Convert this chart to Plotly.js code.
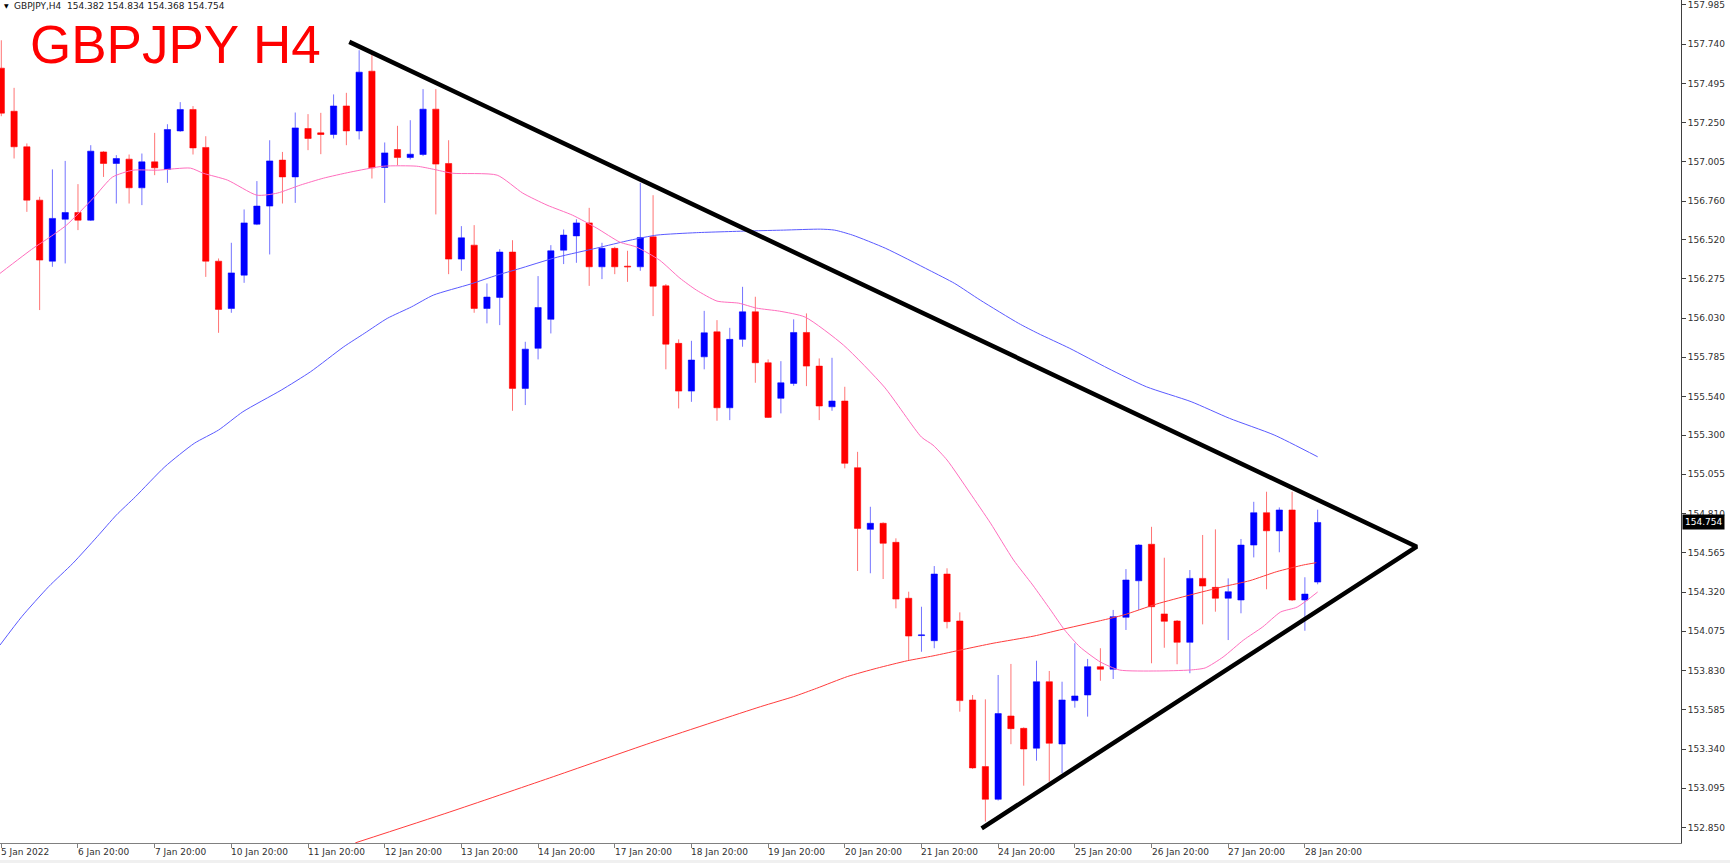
<!DOCTYPE html>
<html><head><meta charset="utf-8">
<script src="https://cdn.plot.ly/plotly-3.0.1.min.js"></script>
<style>html,body{margin:0;padding:0;background:#fff;overflow:hidden}#chart{width:1730px;height:863px}</style>
</head><body><div id="chart"></div>
<script>
const symbolName = 'GBPJPY,H4';
const bigTitle = 'GBPJPY H4';

const openP = [157.590,157.321,157.099,156.766,156.385,156.647,156.689,156.641,157.067,156.995,
157.022,156.843,157.005,156.958,157.198,157.332,157.095,156.385,156.090,156.298,
156.616,156.729,157.016,156.911,157.213,157.186,157.176,157.354,157.198,157.571,
156.970,157.082,157.032,157.051,157.334,156.995,156.398,156.485,156.090,156.159,
156.442,155.591,155.841,156.022,156.454,156.543,156.624,156.350,156.465,156.354,
156.350,156.537,156.231,155.872,155.574,155.788,155.944,155.470,155.897,156.069,
155.751,155.529,155.622,155.940,155.730,155.476,155.512,155.096,154.711,154.749,
154.630,154.281,154.048,154.016,154.432,154.139,153.646,153.230,153.026,153.546,
153.469,153.345,153.760,153.371,153.642,153.677,153.854,153.838,154.162,154.390,
154.618,154.183,154.139,154.006,154.405,154.349,154.281,154.270,154.613,154.815,
154.701,154.832,154.270,154.382];
const highP = [157.764,157.467,157.120,156.787,156.958,157.011,156.866,157.109,157.072,157.047,
157.051,157.057,157.186,157.240,157.378,157.353,157.165,156.402,156.500,156.708,
156.885,157.140,157.067,157.313,157.303,157.311,157.426,157.436,157.702,157.681,
157.126,157.230,157.265,157.459,157.459,157.140,156.604,156.610,156.246,156.460,
156.516,155.882,156.292,156.485,156.583,156.647,156.718,156.500,156.475,156.450,
156.874,156.797,156.242,155.897,155.888,156.075,156.017,155.969,156.225,156.163,
155.772,155.761,156.022,156.059,155.778,155.782,155.601,155.195,154.852,154.755,
154.655,154.322,154.228,154.482,154.468,154.193,153.677,153.650,153.802,153.871,
153.475,153.891,153.827,153.760,154.000,153.902,153.969,154.208,154.463,154.619,
154.727,154.534,154.145,154.457,154.676,154.711,154.405,154.651,154.883,154.946,
154.848,154.946,154.412,154.834];
const lowP = [157.290,157.026,156.693,156.080,156.350,156.371,156.579,156.636,156.911,156.745,
156.745,156.735,156.922,156.874,157.193,157.051,156.287,155.938,156.063,156.250,
156.610,156.427,156.745,156.749,157.078,157.053,157.151,157.109,157.145,156.901,
156.749,156.984,157.020,157.041,156.677,156.304,156.325,156.063,155.997,155.986,
155.451,155.487,155.772,155.934,156.367,156.375,156.231,156.273,156.304,156.256,
156.325,156.042,155.710,155.466,155.507,155.710,155.389,155.393,155.851,155.626,
155.406,155.435,155.607,155.605,155.393,155.451,155.092,154.451,154.437,154.401,
154.218,153.896,153.947,153.969,154.093,153.573,153.216,152.887,153.018,153.370,
153.111,153.267,153.136,153.189,153.598,153.542,153.766,153.777,154.083,154.208,
153.875,153.972,153.869,153.813,154.118,154.197,154.020,154.187,154.536,154.337,
154.568,154.264,154.078,154.368];
const closeP = [157.309,157.099,156.766,156.392,156.652,156.689,156.641,157.072,156.995,157.026,
156.843,157.005,156.968,157.207,157.332,157.092,156.385,156.084,156.312,156.624,
156.729,157.011,156.911,157.217,157.151,157.176,157.354,157.198,157.565,156.968,
157.061,157.032,157.053,157.334,156.991,156.398,156.531,156.090,156.161,156.442,
155.591,155.836,156.096,156.450,156.548,156.624,156.350,156.465,156.350,156.350,
156.533,156.229,155.867,155.574,155.768,155.938,155.470,155.897,156.069,155.751,
155.410,155.626,155.940,155.730,155.481,155.512,155.123,154.717,154.749,154.624,
154.276,154.045,154.052,154.432,154.135,153.642,153.222,153.026,153.561,153.467,
153.340,153.760,153.376,153.646,153.671,153.854,153.838,154.166,154.395,154.613,
154.228,154.137,154.006,154.405,154.357,154.281,154.322,154.613,154.815,154.702,
154.832,154.270,154.307,154.754];

// bar positions (H4 bars, weekends skipped) and the time-axis labels
const tickPos = [0,6,12,18,24,30,36,42,48,54,60,66,72,78,84,90,96,102];
const tickLabels = ['5 Jan 2022','6 Jan 20:00','7 Jan 20:00','10 Jan 20:00','11 Jan 20:00','12 Jan 20:00',
'13 Jan 20:00','14 Jan 20:00','17 Jan 20:00','18 Jan 20:00','19 Jan 20:00','20 Jan 20:00','21 Jan 20:00',
'24 Jan 20:00','25 Jan 20:00','26 Jan 20:00','27 Jan 20:00','28 Jan 20:00'];
const priceTicks = [157.985,157.740,157.495,157.250,157.005,156.760,156.520,156.275,156.030,155.785,155.540,
155.300,155.055,154.810,154.565,154.320,154.075,153.830,153.585,153.340,153.095,152.850];

// fast MA (pink)
const maFastX = [-0.1,2.5,3.8,5.1,7.2,8.7,10.3,12.2,14.8,15.8,17.7,20.0,21.6,23.4,25.2,27.3,29.9,32.5,33.8,35.3,38.8,40.8,42.7,44.7,46.6,48.4,49.7,51.5,53.1,54.4,56.0,57.7,59.1,60.9,62.9,65.9,69.1,72.0,72.9,74.0,75.8,77.4,79.2,80.7,82.1,83.2,84.4,86.0,87.5,90.4,93.0,94.2,95.6,97.2,98.7,100.1,101.4,103.0];
const maFastY = [156.309,156.466,156.535,156.610,156.779,156.910,156.953,156.953,156.966,156.934,156.891,156.797,156.810,156.860,156.903,156.941,156.978,156.978,156.959,156.934,156.922,156.810,156.735,156.672,156.591,156.504,156.473,156.392,156.279,156.204,156.136,156.123,156.092,156.073,156.036,155.861,155.599,155.287,155.237,155.144,154.938,154.750,154.520,154.364,154.208,154.083,153.977,153.883,153.833,153.827,153.833,153.846,153.914,154.020,154.102,154.195,154.226,154.320];
// medium MA (blue)
const maMidX = [-0.1,1.6,3.7,5.6,7.5,9.0,10.5,12.8,15.1,17.0,18.9,21.9,24.2,26.8,28.4,30.2,32.1,33.8,36.7,38.8,40.4,43.5,46.6,49.2,51.3,54.4,58.7,61.2,64.1,65.2,66.6,69.2,72.6,74.6,76.6,79.6,81.1,83.6,86.6,89.6,93.1,96.1,99.6,103.0];
const maMidY = [153.989,154.166,154.353,154.499,154.665,154.800,154.915,155.102,155.248,155.331,155.445,155.580,155.695,155.851,155.934,156.028,156.100,156.173,156.242,156.298,156.335,156.410,156.467,156.516,156.548,156.563,156.574,156.579,156.585,156.579,156.548,156.465,156.329,156.246,156.142,155.997,155.935,155.841,155.716,155.601,155.508,155.404,155.300,155.164];
// slow MA (red)
const maSlowX = [27.7,35.1,42.9,50.8,59.4,62.0,63.8,66.2,68.5,70.9,72.9,75.3,77.6,80.8,82.8,86.0,87.8,90.4,93.0,95.6,97.7,99.8,101.9,102.9];
const maSlowY = [152.754,152.947,153.159,153.378,153.604,153.667,153.719,153.792,153.844,153.891,153.921,153.962,154.000,154.045,154.083,154.141,154.176,154.245,154.301,154.353,154.391,154.447,154.489,154.503];

// hand-drawn triangle trendlines: upper start -> apex -> lower start
const trendX = [27.23,110.75,76.71];
const trendY = [157.754,154.603,152.845];

const barIndex = openP.map((_, i) => i);
const last = openP.length - 1;
const lastPrice = closeP[last];

const axisFont = {family:'DejaVu Sans', size:9, color:'#303030'};

const traces = [
  {type:'candlestick', x:barIndex, open:openP, high:highP, low:lowP, close:closeP,
   increasing:{line:{color:'rgba(0,0,255,0.55)', width:1}, fillcolor:'#0000ff'},
   decreasing:{line:{color:'rgba(255,0,0,0.55)', width:1}, fillcolor:'#ff0000'},
   whiskerwidth:0, hoverinfo:'skip'},
  {type:'scatter', mode:'lines', x:maSlowX, y:maSlowY, line:{color:'rgb(255,60,60)', width:1, shape:'spline', smoothing:0.6}, hoverinfo:'skip'},
  {type:'scatter', mode:'lines', x:maMidX, y:maMidY, line:{color:'rgb(90,90,255)', width:1, shape:'spline', smoothing:0.6}, hoverinfo:'skip'},
  {type:'scatter', mode:'lines', x:maFastX, y:maFastY, line:{color:'rgb(255,110,190)', width:1, shape:'spline', smoothing:0.6}, hoverinfo:'skip'},
  {type:'scatter', mode:'lines', x:trendX, y:trendY, line:{color:'#000000', width:4.5}, hoverinfo:'skip'}
];

const annotations = tickLabels.map((t, k) => ({
  x: tickPos[k], y: 0, xref:'x', yref:'paper', xanchor:'left', yanchor:'top',
  text: t, showarrow:false, font: axisFont, xshift:-2, yshift:-2
}));
annotations.push({
  xref:'paper', x:1, y:lastPrice, yref:'y', xanchor:'left', yanchor:'middle',
  text: lastPrice.toFixed(3), showarrow:false, bgcolor:'#000000', borderpad:2,
  font:{family:'DejaVu Sans', size:9, color:'#ffffff'}, xshift:1
});
annotations.push({
  xref:'paper', yref:'paper', x:28/1681, y:1-44/843, xanchor:'left', yanchor:'middle',
  text: bigTitle, showarrow:false, font:{family:'Liberation Sans, Arial', size:53, color:'#ff0000'}
});
annotations.push({
  xref:'paper', yref:'paper', x:2/1681, y:1-6/843, xanchor:'left', yanchor:'middle',
  text:'\u25BC', showarrow:false, font:{family:'DejaVu Sans', size:6, color:'#000000'}
});
annotations.push({
  xref:'paper', yref:'paper', x:12/1681, y:1-6/843, xanchor:'left', yanchor:'middle',
  text: symbolName + '\u00a0\u00a0' + [openP[last], highP[last], lowP[last], closeP[last]].map(v => v.toFixed(3)).join(' '),
  showarrow:false, font:{family:'DejaVu Sans', size:9, color:'#202020'}
});

const layout = {
  width:1730, height:863,
  margin:{l:0, r:49, t:0, b:20, pad:0},
  paper_bgcolor:'#ffffff', plot_bgcolor:'#ffffff',
  showlegend:false,
  boxgap:0.3,
  xaxis:{range:[-0.1017,131.43], showgrid:false, zeroline:false, showline:true, linecolor:'#808080', linewidth:1,
         ticks:'outside', ticklen:4, tickcolor:'#808080', tickvals:tickPos, showticklabels:false,
         rangeslider:{visible:false}, fixedrange:true},
  yaxis:{side:'right', range:[152.7532,158.0154], showgrid:false, zeroline:false, showline:true,
         linecolor:'#404040', linewidth:1, ticks:'outside', ticklen:4, tickcolor:'#404040',
         tickvals:priceTicks, ticktext:priceTicks.map(v => v.toFixed(3)), tickfont:axisFont, fixedrange:true},
  annotations: annotations,
  shapes:[{type:'rect', xref:'paper', yref:'paper', x0:0, x1:1730/1681, y0:-20/843, y1:-17/843,
           fillcolor:'#f0f0f0', line:{width:0}, layer:'below'}]
};

Plotly.newPlot('chart', traces, layout, {staticPlot:true, displayModeBar:false});
</script>
</body></html>
